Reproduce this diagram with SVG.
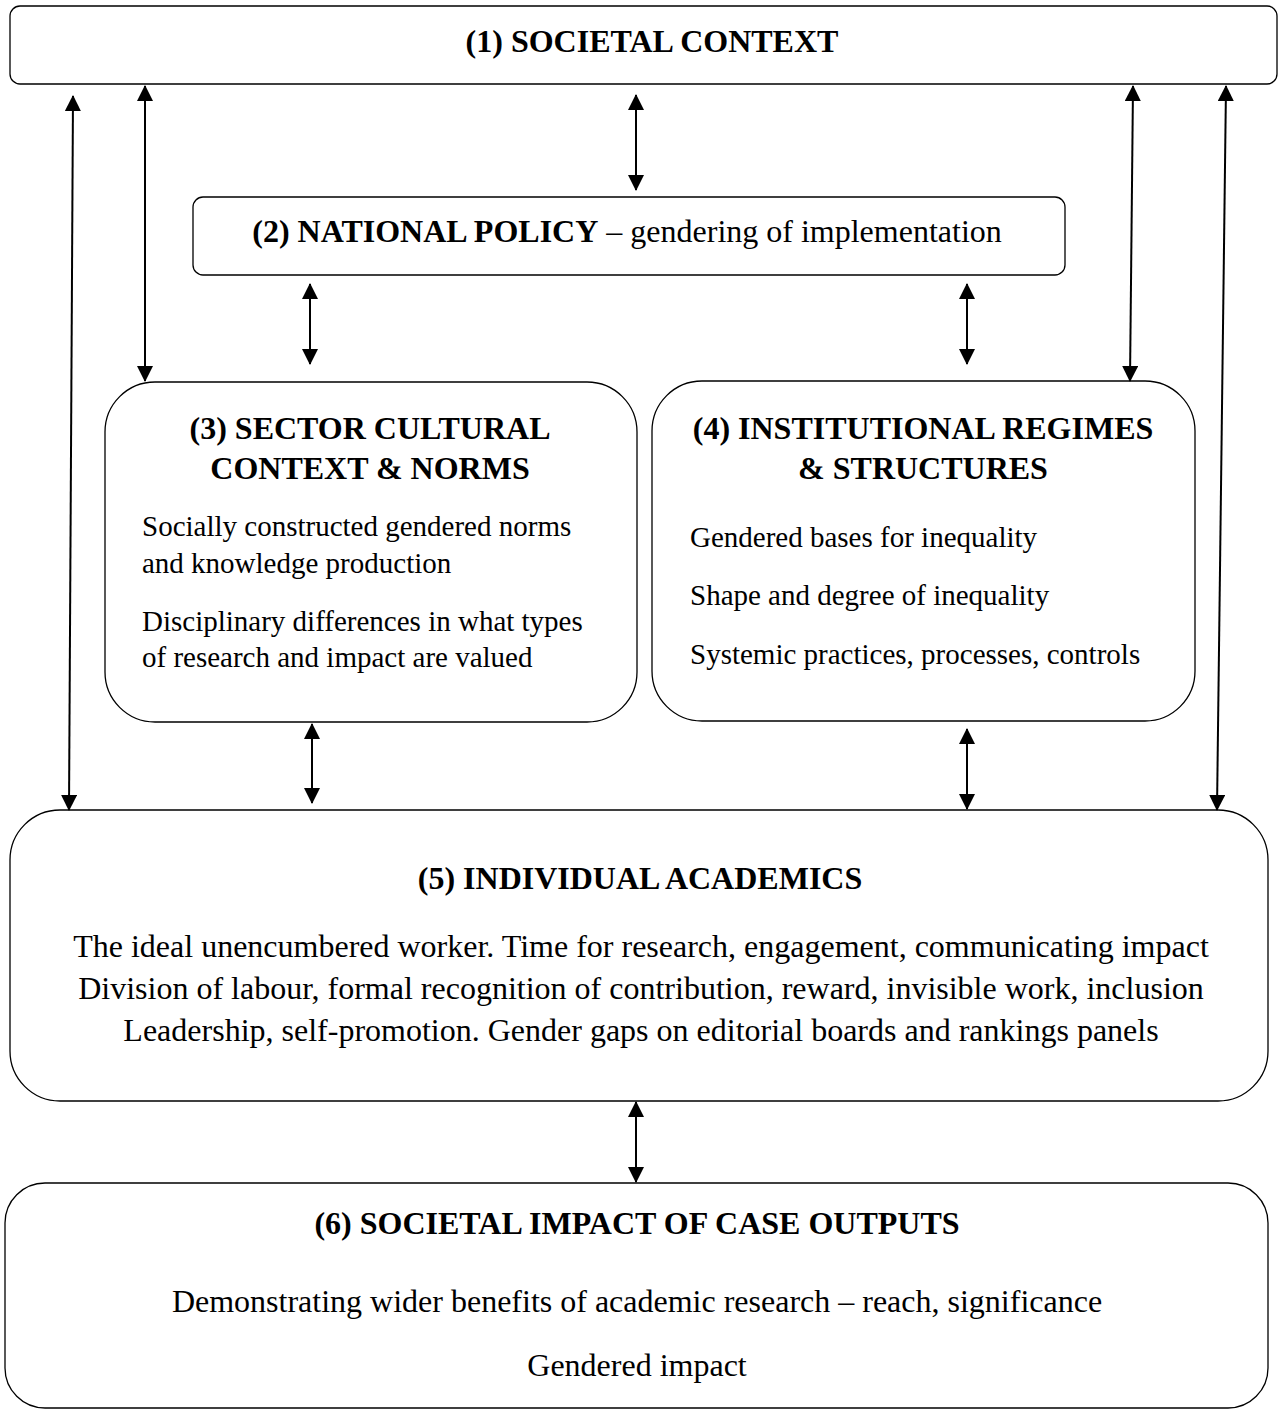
<svg xmlns="http://www.w3.org/2000/svg" width="1278" height="1411" viewBox="0 0 1278 1411">
<defs>
<marker id="ah" viewBox="0 0 16 16" refX="15" refY="8" markerWidth="16" markerHeight="16" markerUnits="userSpaceOnUse" orient="auto-start-reverse">
<path d="M0,0 L16,8 L0,16 z" fill="#000"/>
</marker>
<style>
.box{fill:#fff;stroke:#000;stroke-width:1.3}
.t{font-family:"Liberation Serif","Times New Roman",serif;font-size:32px;fill:#000}
.s{font-size:29px}
.b{font-weight:bold}
.h{font-family:"Liberation Serif","Times New Roman",serif;font-size:32px;font-weight:bold;fill:#000}
.c{fill:none;stroke:#000;stroke-width:2;marker-start:url(#ah);marker-end:url(#ah)}
</style>
</defs>
<rect width="1278" height="1411" fill="#fff"/>
<g id="n1">
<rect class="box" x="10" y="6" width="1267" height="78" rx="10"/>
<text class="h" x="652" y="52" text-anchor="middle" font-size="30">(1) SOCIETAL CONTEXT</text>
</g>
<g id="n2">
<rect class="box" x="193" y="197" width="872" height="78" rx="10"/>
<text class="t" x="627" y="242" text-anchor="middle"><tspan class="b">(2) NATIONAL POLICY</tspan> – gendering of implementation</text>
</g>
<g id="n3">
<rect class="box" x="105" y="382" width="532" height="340" rx="50"/>
<text class="h" x="370" y="439" text-anchor="middle">(3) SECTOR CULTURAL</text>
<text class="h" x="370" y="479" text-anchor="middle">CONTEXT &amp; NORMS</text>
<text class="t s" x="142" y="536">Socially constructed gendered norms</text>
<text class="t s" x="142" y="573">and knowledge production</text>
<text class="t s" x="142" y="631">Disciplinary differences in what types</text>
<text class="t s" x="142" y="667">of research and impact are valued</text>
</g>
<g id="n4">
<rect class="box" x="652" y="381" width="543" height="340" rx="50"/>
<text class="h" x="923" y="439" text-anchor="middle">(4) INSTITUTIONAL REGIMES</text>
<text class="h" x="923" y="479" text-anchor="middle">&amp; STRUCTURES</text>
<text class="t s" x="690" y="547">Gendered bases for inequality</text>
<text class="t s" x="690" y="605">Shape and degree of inequality</text>
<text class="t s" x="690" y="664">Systemic practices, processes, controls</text>
</g>
<g id="n5">
<rect class="box" x="10" y="810" width="1258" height="291" rx="50"/>
<text class="h" x="640" y="889" text-anchor="middle">(5) INDIVIDUAL ACADEMICS</text>
<text class="t" x="641" y="957" text-anchor="middle">The ideal unencumbered worker. Time for research, engagement, communicating impact</text>
<text class="t" x="641" y="999" text-anchor="middle">Division of labour, formal recognition of contribution, reward, invisible work, inclusion</text>
<text class="t" x="641" y="1041" text-anchor="middle">Leadership, self-promotion. Gender gaps on editorial boards and rankings panels</text>
</g>
<g id="n6">
<rect class="box" x="5" y="1183" width="1263" height="225" rx="40"/>
<text class="h" x="637" y="1234" text-anchor="middle">(6) SOCIETAL IMPACT OF CASE OUTPUTS</text>
<text class="t" x="637" y="1312" text-anchor="middle">Demonstrating wider benefits of academic research – reach, significance</text>
<text class="t" x="637" y="1376" text-anchor="middle">Gendered impact</text>
</g>
<g id="connectors">
<line class="c" x1="73" y1="96" x2="69" y2="810"/>
<line class="c" x1="145" y1="86" x2="145" y2="381"/>
<line class="c" x1="636" y1="95" x2="636" y2="190"/>
<line class="c" x1="310" y1="284" x2="310" y2="364"/>
<line class="c" x1="967" y1="284" x2="967" y2="364"/>
<line class="c" x1="1133" y1="86" x2="1130" y2="381"/>
<line class="c" x1="1226" y1="86" x2="1217" y2="810"/>
<line class="c" x1="312" y1="724" x2="312" y2="803"/>
<line class="c" x1="967" y1="729" x2="967" y2="809"/>
<line class="c" x1="636" y1="1102" x2="636" y2="1182"/>
</g>
</svg>
